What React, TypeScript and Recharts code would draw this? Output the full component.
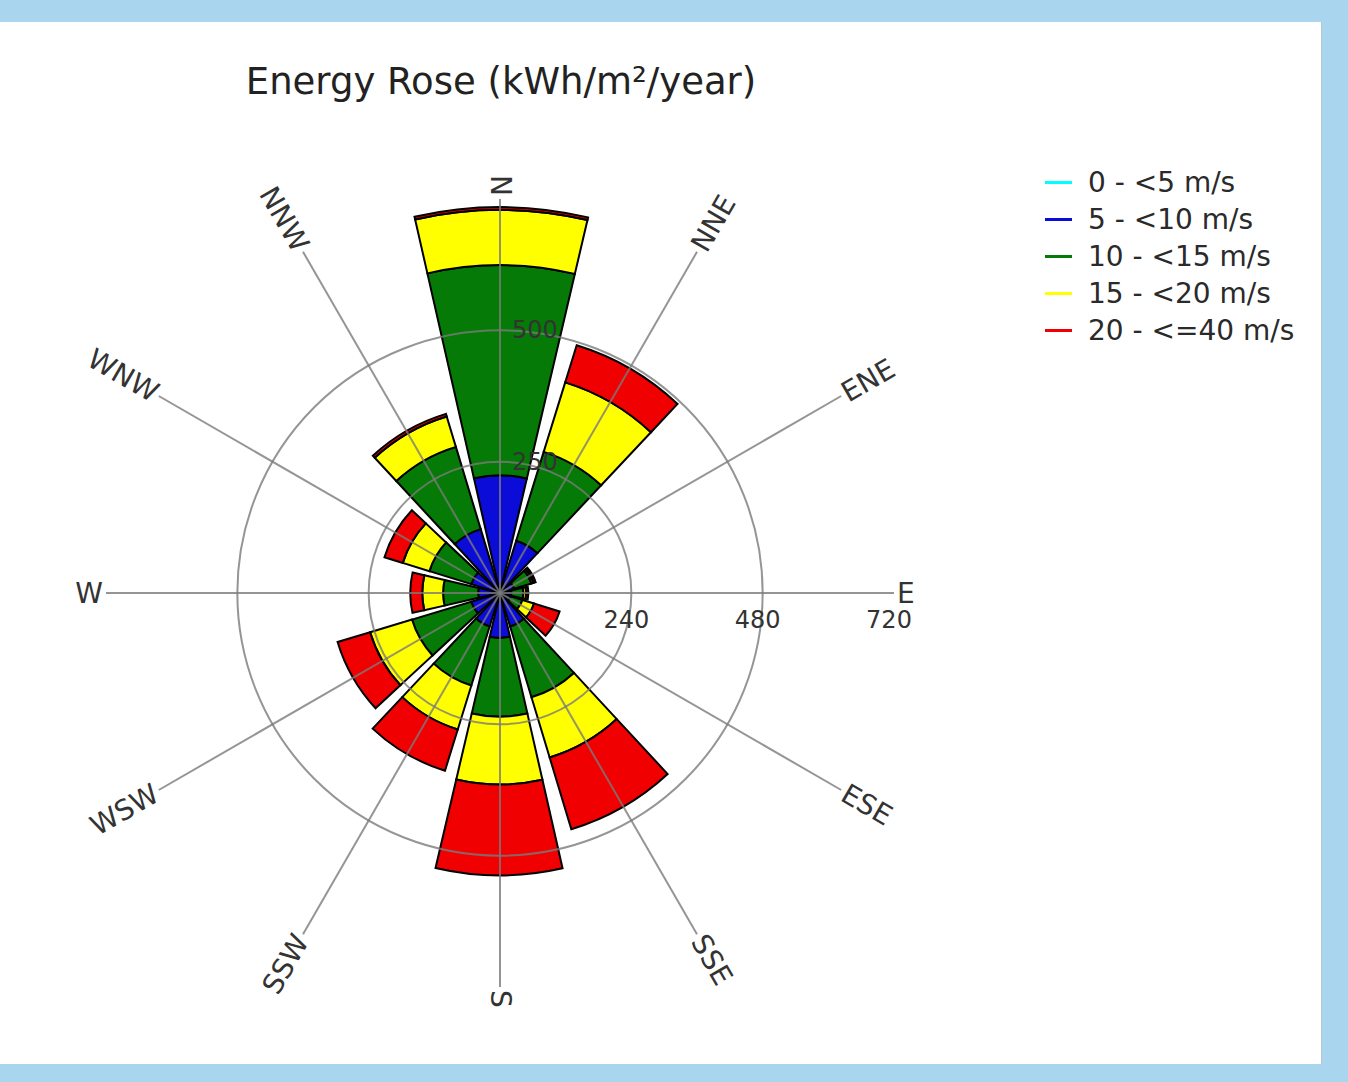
import { RadialBarChart, RadialBar, PolarAngleAxis, PolarRadiusAxis, PolarGrid, Legend } from 'recharts'

const DIRECTIONS = ['N', 'NNE', 'ENE', 'E', 'ESE', 'SSE', 'S', 'SSW', 'WSW', 'W', 'WNW', 'NNW']
const SPEED_BINS = ['0 - <5 m/s', '5 - <10 m/s', '10 - <15 m/s', '15 - <20 m/s', '20 - <=40 m/s']
const BIN_KEYS = ['b0', 'b5', 'b10', 'b15', 'b20']
const COLORS = ['#00ffff', '#0c0cd8', '#067a06', '#ffff00', '#f00000']

// energy (kWh/m²/year) per speed bin, one value per direction
const BIN_0_5 = [7, 7, 5, 5, 5, 7, 7, 7, 7, 5, 7, 7]
const BIN_5_10 = [208, 93, 22, 16, 16, 57, 75, 57, 48, 35, 48, 115]
const BIN_10_15 = [384, 170, 33, 22, 22, 135, 144, 113, 113, 64, 80, 157]
const BIN_15_20 = [101, 133, 4, 5, 22, 115, 124, 84, 80, 38, 51, 58]
const BIN_20_40 = [5, 71, 4, 4, 49, 137, 166, 79, 62, 22, 35, 5]

const RING_TICKS = [240, 480, 720]
const KWH_TICKS = [250, 500]

const data = DIRECTIONS.map((dir, i) => ({
  dir,
  b0: BIN_0_5[i],
  b5: BIN_5_10[i],
  b10: BIN_10_15[i],
  b15: BIN_15_20[i],
  b20: BIN_20_40[i],
}))

const FONT = "'DejaVu Sans', sans-serif"
const CX = 500
const CY = 571
const OUTER = 394
const LABEL_R = 397

const renderDirTick = (props: any) => {
  const i = DIRECTIONS.indexOf(props.payload.value)
  const a = 90 - i * 30
  const rad = (a * Math.PI) / 180
  const px = CX + LABEL_R * Math.cos(rad)
  const py = CY - LABEL_R * Math.sin(rad)
  const right = a >= -90 && a < 90
  const rot = right ? -a : 180 - a
  return (
    <text
      x={px}
      y={py}
      textAnchor={right ? 'start' : 'end'}
      dominantBaseline="central"
      transform={`rotate(${rot}, ${px}, ${py})`}
      fontFamily={FONT}
      fontSize={28}
      fill="#333"
    >
      {props.payload.value}
    </text>
  )
}

const renderRingTick = (props: any) => (
  <text x={props.x - 5} y={props.y + 27} textAnchor="middle" dominantBaseline="central" fontFamily={FONT} fontSize={24} fill="#333">
    {props.payload.value}
  </text>
)

const renderKwhTick = (props: any) => (
  <text x={props.x + 12} y={props.y} textAnchor="start" dominantBaseline="central" fontFamily={FONT} fontSize={24} fill="#333">
    {props.payload.value}
  </text>
)

const renderLegend = () => (
  <div style={{ fontFamily: FONT, fontSize: 28, color: '#2a2a2a', lineHeight: '37px' }}>
    {SPEED_BINS.map((label, i) => (
      <div key={label} style={{ display: 'flex', alignItems: 'center', whiteSpace: 'nowrap' }}>
        <span style={{ display: 'inline-block', width: 27, height: 3, background: COLORS[i], marginRight: 16 }} />
        {label}
      </div>
    ))}
  </div>
)

export default function App() {
  return (
    <div style={{ position: 'absolute', left: 0, top: 0, width: 1348, height: 1082, background: '#a9d5ef' }}>
      <div
        style={{
          position: 'absolute',
          left: 0,
          top: 22,
          width: 1321,
          height: 1042,
          background: '#fff',
          borderRight: '1px solid #b9c6ce',
        }}
      >
        <div
          style={{
            position: 'absolute',
            left: 0,
            top: 41,
            width: 1002,
            textAlign: 'center',
            fontFamily: FONT,
            fontSize: 37,
            lineHeight: '37px',
            color: '#222',
          }}
        >
          Energy Rose (kWh/m²/year)
        </div>
        <RadialBarChart
          width={1321}
          height={1042}
          data={data}
          layout="centric"
          cx={CX}
          cy={CY}
          innerRadius={0}
          outerRadius={OUTER}
          startAngle={75}
          endAngle={-285}
          barCategoryGap="6%"
        >
          {BIN_KEYS.map((key, i) => (
            <RadialBar
              key={key}
              dataKey={key}
              name={SPEED_BINS[i]}
              stackId="rose"
              fill={COLORS[i]}
              stroke="#000"
              strokeWidth={2}
              isAnimationActive={false}
            />
          ))}
          <PolarGrid
            gridType="circle"
            radiusAxisId="kwh"
            polarAngles={DIRECTIONS.map((_, i) => 90 - i * 30)}
            stroke="#7a7a7a"
            strokeWidth={2}
            strokeOpacity={0.8}
            zIndex={350}
          />
          <PolarAngleAxis type="category" dataKey="dir" axisLine={false} tickLine={false} tick={renderDirTick} />
          <PolarRadiusAxis
            type="number"
            domain={[0, 720]}
            ticks={RING_TICKS}
            angle={0}
            axisLine={false}
            tickLine={false}
            tick={renderRingTick}
          />
          <PolarRadiusAxis
            radiusAxisId="kwh"
            type="number"
            domain={[0, 750]}
            allowDataOverflow
            ticks={KWH_TICKS}
            angle={90}
            axisLine={false}
            tickLine={false}
            tick={renderKwhTick}
          />
          <Legend content={renderLegend} wrapperStyle={{ left: 1045, top: 142, width: 275 }} />
        </RadialBarChart>
      </div>
    </div>
  )
}
